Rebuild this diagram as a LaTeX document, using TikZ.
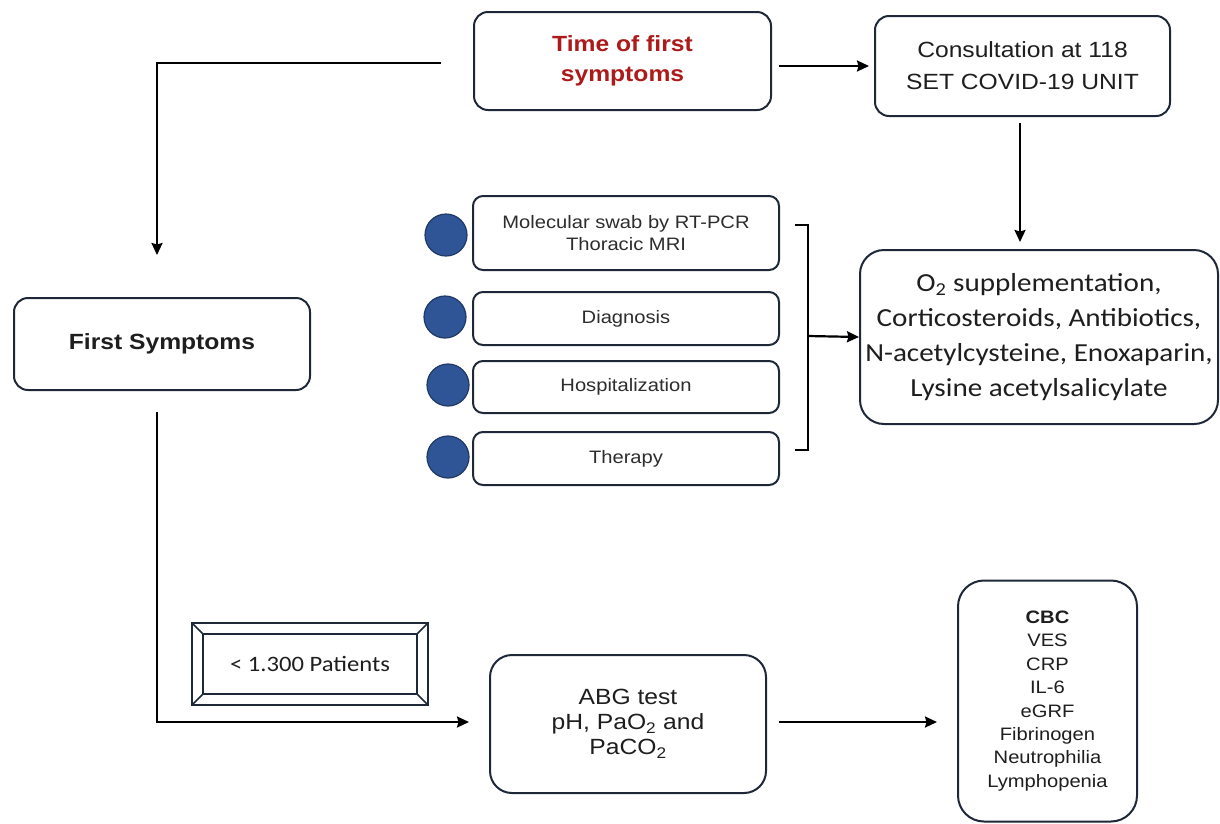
\documentclass[tikz,border=0pt]{standalone}
\usepackage{fontspec}
\setmainfont{Liberation Sans}[FakeStretch=1.12]
\newfontfamily\calib{Carlito}[FakeStretch=1.12]
\usetikzlibrary{arrows.meta,calc}
\definecolor{boxc}{RGB}{30,40,56}
\definecolor{timered}{RGB}{172,26,26}
\definecolor{txt}{RGB}{30,30,30}
\definecolor{stxt}{RGB}{45,45,45}
\definecolor{dotfill}{RGB}{47,85,151}
\definecolor{dotline}{RGB}{31,56,100}
\begin{document}
\begin{tikzpicture}[x=1pt,y=-1pt,
  box/.style={draw=boxc, line width=2pt, rounded corners=14pt, fill=white, align=center, inner sep=0pt, text=txt},
  smallbox/.style={box, rounded corners=10pt, minimum width=306pt, text=stxt, font=\fontsize{18}{22}\selectfont},
  dot/.style={circle, draw=dotline, line width=1.2pt, fill=dotfill, minimum size=42pt, inner sep=0pt},
  arr/.style={-{Stealth[length=12pt,width=11pt,inset=1.5pt]}, line width=2.2pt, draw=black},
  lin/.style={line width=2.2pt, draw=black},
]
\useasboundingbox (0,0) rectangle (1220,823);
% main boxes
\node[box, minimum width=297pt, minimum height=98pt, font=\fontsize{22}{30}\selectfont\bfseries, text=timered] (time) at (622.5,61) {Time of first\\symptoms};
\node[box, minimum width=295pt, minimum height=100pt, font=\fontsize{22}{32}\selectfont] (cons) at (1022.5,66) {Consultation at 118\\SET COVID-19 UNIT};
\node[box, minimum width=296pt, minimum height=92pt, font=\fontsize{22}{28}\selectfont\bfseries] (first) at (162,344) {First Symptoms};
\node[box, rounded corners=24pt, minimum width=358pt, minimum height=174pt, font=\calib\fontsize{26}{35}\selectfont] (o2) at (1039,337)
  {O\textsubscript{2} supplementation,\\Corticosteroids, Antibiotics,\\N-acetylcysteine, Enoxaparin,\\Lysine acetylsalicylate};
\node[box, rounded corners=22pt, minimum width=276pt, minimum height=138pt, font=\fontsize{22}{25}\selectfont] (abg) at (628,724)
  {ABG test\\pH, PaO\textsubscript{2} and\\PaCO\textsubscript{2}};
\node[box, rounded corners=26pt, minimum width=179pt, minimum height=241pt, font=\fontsize{18}{23.4}\selectfont] (cbc) at (1047.5,701)
  {\textbf{CBC}\\VES\\CRP\\IL-6\\eGRF\\Fibrinogen\\Neutrophilia\\Lymphopenia};
% small boxes
\node[smallbox, minimum height=74pt] (m1) at (626,233) {Molecular swab by RT-PCR\\Thoracic MRI};
\node[smallbox, minimum height=53pt] (m2) at (626,318.5) {Diagnosis};
\node[smallbox, minimum height=52pt] (m3) at (626,387) {Hospitalization};
\node[smallbox, minimum height=53pt] (m4) at (626,458.5) {Therapy};
% dots
\node[dot] (d1) at (446,235) {};
\node[dot] (d2) at (445,317) {};
\node[dot] (d3) at (448,385) {};
\node[dot] (d4) at (448,457) {};
% patients bevel box
\node[inner sep=0pt, minimum width=236pt, minimum height=82pt, text=txt, font=\calib\fontsize{22}{26}\selectfont] (pat) at (310,664) {< 1.300 Patients};
\draw[line width=2.4pt, draw=boxc] (pat.north west) rectangle (pat.south east);
\draw[line width=2.4pt, draw=boxc] ($(pat.north west)+(11,11)$) rectangle ($(pat.south east)+(-11,-11)$);
\draw[line width=1.6pt, draw=boxc] (pat.north west) -- ++(11,11);
\draw[line width=1.6pt, draw=boxc] (pat.north east) -- ++(-11,11);
\draw[line width=1.6pt, draw=boxc] (pat.south west) -- ++(11,-11);
\draw[line width=1.6pt, draw=boxc] (pat.south east) -- ++(-11,-11);
% connectors
\coordinate (t0) at (441,63);
\coordinate (f0) at (157,255);
\coordinate (f1) at (157,412);
\draw[arr] ([xshift=7pt,yshift=-5pt]time.east) -- ([xshift=-5pt]cons.west);
\draw[arr] (t0) -| (f0);
\draw[arr] ([xshift=-2.5pt,yshift=-6pt]cons.south) -- ([yshift=7pt]o2.north -| 1020,0);
\draw[arr] (f1) |- ([xshift=-20pt,yshift=2pt]abg.west);
\draw[arr] ([xshift=12pt,yshift=2pt]abg.east) -- ($(abg.east -| cbc.west)+(-20,-2)$);
% bracket
\coordinate (b1) at (795,225);
\coordinate (b2) at (795,450);
\coordinate (bm) at (808,336);
\draw[lin] (b1) -- (808,225) -- (808,450) -- (b2);
\draw[arr] (bm) -- (o2.west);
\end{tikzpicture}
\end{document}
